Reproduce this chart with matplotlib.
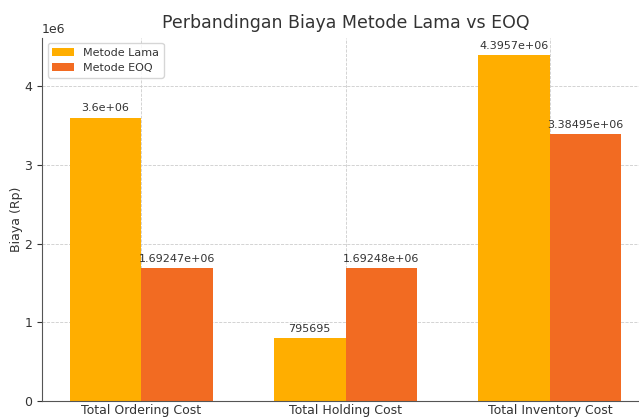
import matplotlib
matplotlib.use("Agg")
import matplotlib.pyplot as plt
import numpy as np

categories = ["Total Ordering Cost", "Total Holding Cost", "Total Inventory Cost"]
lama = [3600000, 795695, 4395700]
eoq = [1692470, 1692480, 3384950]
lama_labels = ["3.6e+06", "795695", "4.3957e+06"]
eoq_labels = ["1.69247e+06", "1.69248e+06", "3.38495e+06"]

txt = "#333333"
fig = plt.figure(figsize=(6.39, 4.17), dpi=100)
ax = fig.add_axes([0.0657, 0.0384, 0.95, 0.8715])

x = np.arange(len(categories))
w = 0.35
b1 = ax.bar(x - w / 2, lama, w, color="#FFAE00", label="Metode Lama", zorder=2)
b2 = ax.bar(x + w / 2, eoq, w, color="#F26B22", label="Metode EOQ", zorder=2)
ax.bar_label(b1, labels=lama_labels, padding=3, fontsize=8, color=txt)
ax.bar_label(b2, labels=eoq_labels, padding=3, fontsize=8, color=txt)

ax.set_xticks(x)
ax.set_xticklabels(categories, fontsize=9, color=txt)
ax.tick_params(axis="y", labelsize=9, colors=txt)
ax.tick_params(axis="x", colors=txt, length=0, pad=2.5)
ax.set_ylabel("Biaya (Rp)", fontsize=9, color=txt, labelpad=1)
ax.set_title("Perbandingan Biaya Metode Lama vs EOQ", fontsize=12.5, color=txt, pad=7)
ax.yaxis.get_offset_text().set_fontsize(9)
ax.yaxis.get_offset_text().set_color(txt)
ax.grid(True, linestyle="--", color="#cccccc", linewidth=0.6, zorder=0)
for s in ax.spines.values():
    s.set_color("#555555")
ax.spines["top"].set_visible(False)
ax.legend(loc="upper left", fontsize=8, labelcolor=txt)

fig.savefig("out.png", dpi=100)
